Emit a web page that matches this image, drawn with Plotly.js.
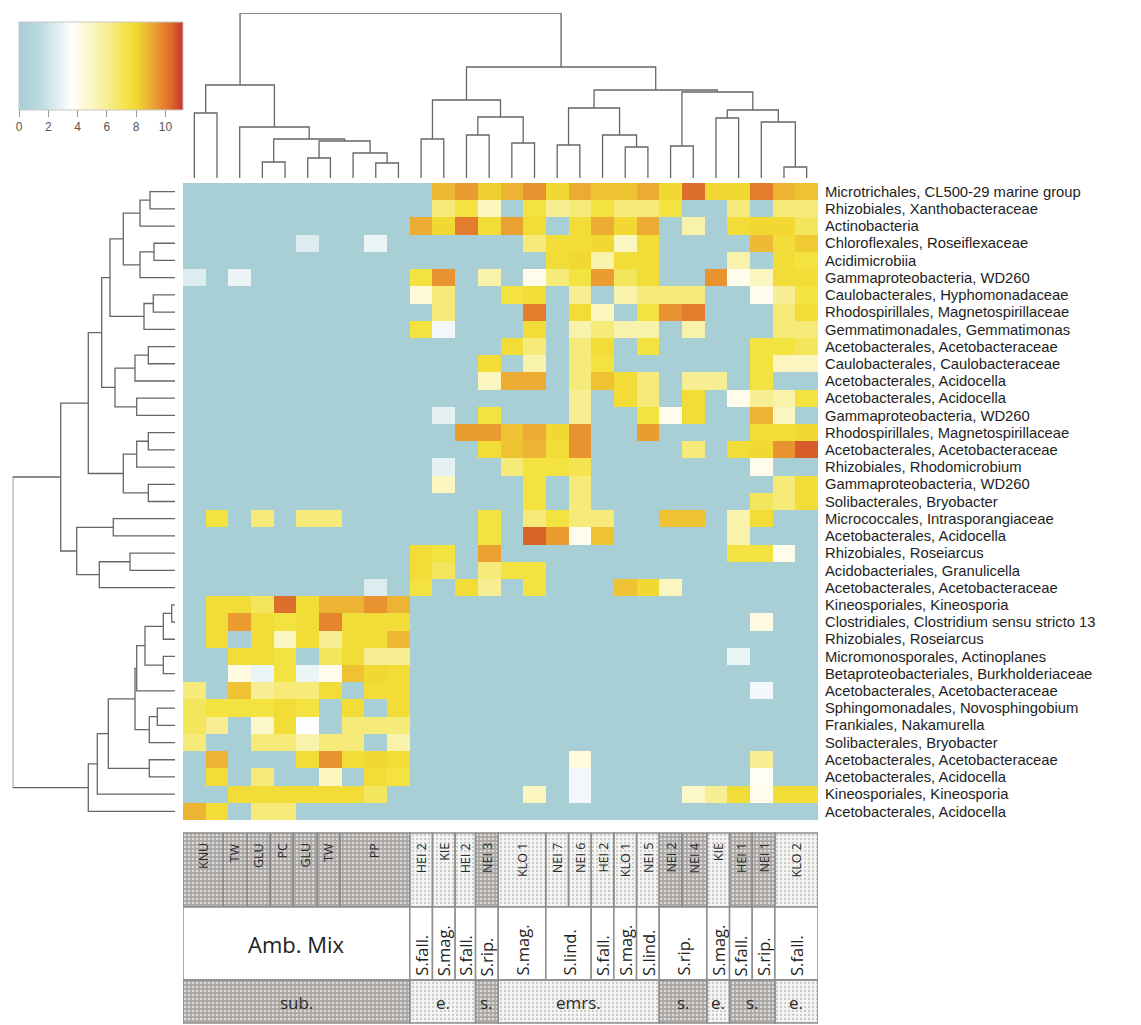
<!DOCTYPE html>
<html><head><meta charset="utf-8">
<script src="https://cdn.plot.ly/plotly-3.0.1.min.js"></script>
<style>html,body{margin:0;padding:0;background:#fff}#chart{width:1141px;height:1025px}</style>
</head><body><div id="chart"></div>
<script>
// ---------------- DATA ----------------
const rowLabels = [
 "Microtrichales, CL500-29 marine group","Rhizobiales, Xanthobacteraceae","Actinobacteria",
 "Chloroflexales, Roseiflexaceae","Acidimicrobiia","Gammaproteobacteria, WD260",
 "Caulobacterales, Hyphomonadaceae","Rhodospirillales, Magnetospirillaceae","Gemmatimonadales, Gemmatimonas",
 "Acetobacterales, Acetobacteraceae","Caulobacterales, Caulobacteraceae","Acetobacterales, Acidocella",
 "Acetobacterales, Acidocella","Gammaproteobacteria, WD260","Rhodospirillales, Magnetospirillaceae",
 "Acetobacterales, Acetobacteraceae","Rhizobiales, Rhodomicrobium","Gammaproteobacteria, WD260",
 "Solibacterales, Bryobacter","Micrococcales, Intrasporangiaceae","Acetobacterales, Acidocella",
 "Rhizobiales, Roseiarcus","Acidobacteriales, Granulicella","Acetobacterales, Acetobacteraceae",
 "Kineosporiales, Kineosporia","Clostridiales, Clostridium sensu stricto 13","Rhizobiales, Roseiarcus",
 "Micromonosporales, Actinoplanes","Betaproteobacteriales, Burkholderiaceae","Acetobacterales, Acetobacteraceae",
 "Sphingomonadales, Novosphingobium","Frankiales, Nakamurella","Solibacterales, Bryobacter",
 "Acetobacterales, Acetobacteraceae","Acetobacterales, Acidocella","Kineosporiales, Kineosporia",
 "Acetobacterales, Acidocella"];

const columns = [1,2,3,4,5,6,7,8,9,10,11,12,13,14,15,16,17,18,19,20,21,22,23,24,25,26,27,28];

const values = [
[0,0,0,0,0,0,0,0,0,0, 0,8.7,9.3,8.2,8.8,9.5,8.0,9.0,8.5,8.5,9.0,8.0,10.3,8.0,8.0,10.0,8.8,8.5],
[0,0,0,0,0,0,0,0,0,0, 0,6.5,7.5,5.0,0,7.5,6.0,6.5,7.5,6.5,6.5,7.5,0,0,6.5,0,6.5,6.5],
[0,0,0,0,0,0,0,0,0,0, 9.0,8.0,10.0,7.8,9.2,7.8,0,7.8,9.0,8.0,9.0,0,5.5,0,7.8,8.0,8.0,7.0],
[0,0,0,0,0,2.5,0,0,3.0,0, 0,0,0,0,0,6.5,7.8,7.8,8.0,5.0,7.8,0,0,0,0,8.7,7.8,8.3],
[0,0,0,0,0,0,0,0,0,0, 0,0,0,0,0,0,7.8,8.0,5.5,7.8,7.8,0,0,0,5.5,0,7.8,7.5],
[2.5,0,3.0,0,0,0,0,0,0,0, 7.5,9.5,0,5.5,0,4.0,6.5,7.5,9.3,7.0,7.8,0,0,9.5,4.0,5.0,7.8,7.8],
[0,0,0,0,0,0,0,0,0,0, 4.5,6.5,0,0,7.5,7.8,0,6.0,0,5.5,6.5,6.5,6.5,0,0,4.0,6.0,7.5],
[0,0,0,0,0,0,0,0,0,0, 0,6.5,0,0,0,10.0,0,7.8,5.0,0,7.5,9.5,10.0,0,0,0,6.5,7.8],
[0,0,0,0,0,0,0,0,0,0, 7.5,3.2,0,0,0,7.8,0,5.5,6.5,5.5,5.5,0,5.5,0,0,0,6.5,6.5],
[0,0,0,0,0,0,0,0,0,0, 0,0,0,0,7.8,6.5,0,6.5,7.8,0,7.5,0,0,0,0,7.5,7.5,7.0],
[0,0,0,0,0,0,0,0,0,0, 0,0,0,7.8,0,5.5,0,6.5,7.5,0,0,0,0,0,0,7.5,5.0,5.0],
[0,0,0,0,0,0,0,0,0,0, 0,0,0,5.0,9.0,9.0,0,6.5,8.5,7.8,6.5,0,6.0,6.0,0,7.5,0,0],
[0,0,0,0,0,0,0,0,0,0, 0,0,0,0,0,0,0,6.0,0,7.8,6.5,0,7.8,0,4.0,6.0,5.5,7.5],
[0,0,0,0,0,0,0,0,0,0, 0,2.8,0,7.5,0,0,0,6.0,0,0,7.5,4.0,7.8,0,0,8.8,5.0,0],
[0,0,0,0,0,0,0,0,0,0, 0,0,9.3,9.3,8.5,9.0,8.0,9.5,0,0,9.3,0,0,0,0,7.8,7.8,8.0],
[0,0,0,0,0,0,0,0,0,0, 0,0,0,7.8,8.5,8.8,7.8,9.5,0,0,0,0,6.5,0,7.8,8.0,9.5,10.6],
[0,0,0,0,0,0,0,0,0,0, 0,2.8,0,0,6.5,7.5,7.5,7.2,0,0,0,0,0,0,0,4.0,0,0],
[0,0,0,0,0,0,0,0,0,0, 0,5.0,0,0,0,7.5,0,6.5,0,0,0,0,0,0,0,0,6.5,7.8],
[0,0,0,0,0,0,0,0,0,0, 0,0,0,0,0,7.5,0,6.5,0,0,0,0,0,0,0,7.0,6.5,7.8],
[0,7.5,0,6.5,0,6.5,6.5,0,0,0, 0,0,0,7.5,0,6.5,7.5,6.5,6.5,0,0,8.5,8.5,0,5.5,7.8,0,0],
[0,0,0,0,0,0,0,0,0,0, 0,0,0,7.5,0,10.5,9.3,4.0,8.5,0,0,0,0,0,5.5,0,0,0],
[0,0,0,0,0,0,0,0,0,0, 7.8,7.5,0,9.2,0,0,0,0,0,0,0,0,0,0,7.5,7.5,4.0,0],
[0,0,0,0,0,0,0,0,0,0, 7.8,7.0,0,6.5,7.5,7.5,0,0,0,0,0,0,0,0,0,0,0,0],
[0,0,0,0,0,0,0,0,2.5,0, 7.5,0,7.8,6.0,0,7.5,0,0,0,8.5,8.0,5.0,0,0,0,0,0,0],
[0,7.8,7.8,7.0,10.3,7.8,8.8,8.8,9.5,8.8, 0,0,0,0,0,0,0,0,0,0,0,0,0,0,0,0,0,0],
[0,7.8,9.3,7.8,7.5,7.8,9.8,7.8,7.8,7.8, 0,0,0,0,0,0,0,0,0,0,0,0,0,0,0,4.2,0,0],
[0,7.8,0,7.8,5.0,7.8,6.0,7.8,7.8,8.7, 0,0,0,0,0,0,0,0,0,0,0,0,0,0,0,0,0,0],
[0,0,7.8,7.8,7.5,0,7.0,7.8,6.0,6.0, 0,0,0,0,0,0,0,0,0,0,0,0,0,0,3.0,0,0,0],
[0,0,4.2,3.0,7.5,3.0,4.0,8.5,8.0,7.8, 0,0,0,0,0,0,0,0,0,0,0,0,0,0,0,0,0,0],
[6.5,0,8.5,6.0,6.5,6.5,7.8,0,7.8,7.8, 0,0,0,0,0,0,0,0,0,0,0,0,0,0,0,3.2,0,0],
[7.0,7.5,7.5,7.5,7.8,7.5,0,7.8,0,7.8, 0,0,0,0,0,0,0,0,0,0,0,0,0,0,0,0,0,0],
[7.0,6.0,0,4.8,7.8,3.5,0,6.5,6.5,6.5, 0,0,0,0,0,0,0,0,0,0,0,0,0,0,0,0,0,0],
[6.5,0,0,6.5,6.5,5.5,6.5,6.5,0,5.5, 0,0,0,0,0,0,0,0,0,0,0,0,0,0,0,0,0,0],
[0,8.8,0,0,0,7.8,9.5,7.8,8.0,7.8, 0,0,0,0,0,0,0,4.3,0,0,0,0,0,0,0,6.0,0,0],
[0,7.8,0,6.5,0,0,5.0,0,7.8,7.5, 0,0,0,0,0,0,0,3.2,0,0,0,0,0,0,0,3.8,0,0],
[0,0,7.8,7.8,7.8,7.8,7.8,7.8,7.0,0, 0,0,0,0,0,5.0,0,3.2,0,0,0,0,4.8,6.0,7.8,4.0,7.8,7.8],
[8.8,7.8,0,6.5,6.5,0,0,0,0,0, 0,0,0,0,0,0,0,0,0,0,0,0,0,0,0,0,0,0]
];

// column dendrogram merges: [childA, childB, height]; ids >= 28 refer to earlier merges
const colMerges = [
 [0,1,65],[3,4,16],[5,6,20],[8,9,15],[7,31,25],[30,32,37],[29,33,39],[2,34,51],[28,35,93],
 [10,11,39],[12,13,43],[14,15,35],[38,39,61],[37,40,78],
 [16,17,33],[19,20,31],[18,43,43],[42,44,70],[21,22,32],[23,24,60],[26,27,11],[25,48,56],
 [47,49,68],[46,50,86],[45,51,88],[41,52,111],[36,53,165]];

// row dendrogram merges; ids >= 37 refer to earlier merges
const rowMerges = [
 [0,1,25],[37,2,35],[3,4,21],[39,5,35],[38,40,51.7],[6,7,21.7],[42,8,31],[41,43,65],
 [9,10,26.7],[45,11,40],[12,13,38.3],[46,47,60],[44,48,73.3],
 [14,15,26.7],[50,16,38.3],[17,18,26.7],[51,52,51.7],[49,53,86.7],
 [19,20,61.7],[21,22,45],[56,23,75.7],[55,57,98.3],[54,58,114.3],
 [24,25,3.3],[60,26,11.7],[27,28,11.7],[61,62,30],[63,29,38.3],[30,31,17.7],[65,32,25.7],
 [64,66,40],[33,34,25.7],[67,68,66.7],[69,35,77.7],[70,36,86.7],[59,71,162.3]];

// annotation table (cell edges in column units)
const sampleLabels = ["KNU","TW","GLU","PC","GLU","TW","PP","HEI 2","KIE","HEI 2","NEI 3","KLO 1","NEI 7","NEI 6","HEI 2","KLO 1","NEI 5","NEI 2","NEI 4","KIE","HEI 1","NEI 1","KLO 2"];
const sampleEdges = [0,1.76,2.82,3.84,4.85,5.91,6.92,10,11,12,12.9,13.9,16,17,18,19,20,21,22,23.1,24.1,25.1,26.1,28];
const sampleDark = [1,1,1,1,1,1,1,0,0,0,1,0,0,0,0,0,0,1,1,0,1,1,0];
const speciesLabels = ["Amb. Mix","S.fall.","S.mag.","S.fall.","S.rip.","S.mag.","S.lind.","S.fall.","S.mag.","S.lind.","S.rip.","S.mag.","S.fall.","S.rip.","S.fall."];
const speciesEdges = [0,10,11,12,12.9,13.9,16,18,19,20,21,23.1,24.1,25.1,26.1,28];
const groupLabels = ["sub.","e.","s.","emrs.","s.","e.","s.","e."];
const groupEdges = [0,10,12.9,13.9,21,23.1,24.1,26.1,28];
const groupDark = [1,0,1,0,1,0,1,0];
const colorTicks = [0,2,4,6,8,10];

// ---------------- LAYOUT HELPERS ----------------
const W = 1141, H = 1025;
const fx = p => p / W, fy = p => 1 - p / H;
const ZMAX = 11.2;
const cs = [[0,'#a8cfd6'],[1.5/ZMAX,'#bddbe0'],[3.6/ZMAX,'#ffffff'],[4.2/ZMAX,'#fffbe2'],
  [6/ZMAX,'#f7ee94'],[7.5/ZMAX,'#f3e240'],[8.0/ZMAX,'#f1d832'],[8.7/ZMAX,'#eeb934'],
  [9.6/ZMAX,'#e88e2f'],[10.4/ZMAX,'#dd6a2a'],[1,'#c83224']];

function dendro(merges, n) {
  const pos = [], hgt = [];
  for (let i = 0; i < n; i++) { pos.push(i); hgt.push(0); }
  const a = [], b = [];
  merges.forEach(([l, r, h]) => {
    a.push(pos[l], pos[l], pos[r], pos[r], null);
    b.push(hgt[l], h, h, hgt[r], null);
    pos.push((pos[l] + pos[r]) / 2); hgt.push(h);
  });
  return {pos: a, h: b};
}
const colDendro = dendro(colMerges, columns.length);
const rowDendro = dendro(rowMerges, rowLabels.length);
const colIdx = columns.map((c, i) => i);
const rowIdx = rowLabels.map((r, i) => i);

const traces = [
 {type:'heatmap', z: values, x: colIdx, y: rowIdx, zmin:0, zmax:ZMAX, colorscale: cs,
  xaxis:'x', yaxis:'y', hoverinfo:'skip',
  colorbar:{orientation:'h', x: fx(19), xanchor:'left', y: fy(22), yanchor:'top',
    len:164, lenmode:'pixels', thickness:88, thicknessmode:'pixels',
    outlinewidth:1, outlinecolor:'#c8c8c8', ticks:'outside', ticklen:7, tickcolor:'#999',
    tickvals: colorTicks, tickfont:{family:'Liberation Sans', size:12, color:'#555'},
    xpad:0, ypad:0, borderwidth:0}},
 {type:'scatter', mode:'lines', x: colDendro.pos, y: colDendro.h, xaxis:'x', yaxis:'y2',
  line:{color:'#666', width:1.3}, hoverinfo:'skip', showlegend:false},
 {type:'scatter', mode:'lines', x: rowDendro.h, y: rowDendro.pos, xaxis:'x3', yaxis:'y',
  line:{color:'#666', width:1.3}, hoverinfo:'skip', showlegend:false}
];

// ---------------- annotation table ----------------
const LINE = '#8d8d8d';
const DARKP = {shape:'.', bgcolor:'#aaa6a4', fgcolor:'#dddbd9', size:4, solidity:0.35};
const LIGHTP = {shape:'.', bgcolor:'#f5f5f4', fgcolor:'#c9c9c9', size:4, solidity:0.25};
const shapes = [], ann = [];
const TF = 'Open Sans';
function cellRow(edges, y0, y1, dark) {
  const n = edges.length - 1;
  if (dark) {
    [1, 0].forEach(d => {
      const idx = [...Array(n).keys()].filter(i => dark[i] === d);
      traces.push({type:'bar', xaxis:'x', yaxis:'y4', orientation:'v',
        x: idx.map(i => edges[i] - 0.5), width: idx.map(i => edges[i+1] - edges[i]),
        offset: 0, base: idx.map(() => y0), y: idx.map(() => y1 - y0),
        marker:{color: d ? DARKP.bgcolor : LIGHTP.bgcolor, pattern: d ? DARKP : LIGHTP, line:{width:0}},
        hoverinfo:'skip', showlegend:false});
    });
  }
  for (let i = 0; i < n; i++) {
    shapes.push({type:'rect', xref:'x', yref:'paper', x0: edges[i]-0.5, x1: edges[i+1]-0.5,
      y0: fy(y1), y1: fy(y0), fillcolor: dark ? 'rgba(0,0,0,0)' : '#ffffff',
      line:{color: LINE, width:1.5}, layer:'above'});
  }
}
cellRow(sampleEdges, 833, 907, sampleDark);
cellRow(speciesEdges, 907, 980, null);
cellRow(groupEdges, 980, 1023, groupDark);
const mid = (e, i) => (e[i] + e[i+1]) / 2 - 0.5;
sampleLabels.forEach((t, i) => ann.push({xref:'x', yref:'paper', x: mid(sampleEdges, i), y: fy(841),
  yanchor:'top', xanchor:'center', text: t, textangle:-90, showarrow:false,
  font:{family:TF, size:12.5, color:'#2a2a2a'}}));
speciesLabels.forEach((t, i) => {
  if (i === 0) ann.push({xref:'x', yref:'paper', x: mid(speciesEdges, i), y: fy(944), yanchor:'middle',
    text: t, showarrow:false, font:{family:TF, size:22, color:'#222'}});
  else ann.push({xref:'x', yref:'paper', x: mid(speciesEdges, i), y: fy(978), yanchor:'bottom',
    text: t, textangle:-90, showarrow:false, font:{family:TF, size:16.5, color:'#222'}});
});
groupLabels.forEach((t, i) => ann.push({xref:'x', yref:'paper', x: mid(groupEdges, i), y: fy(1002),
  yanchor:'middle', text: t, showarrow:false, font:{family:TF, size:17, color:'#2a2a2a'}}));

const layout = {
  width: W, height: H, margin:{l:0, r:0, t:0, b:0, autoexpand:false},
  paper_bgcolor:'#fff', plot_bgcolor:'rgba(0,0,0,0)', showlegend:false,
  barmode:'overlay', bargap:0,
  xaxis:{domain:[fx(183), fx(818)], range:[-0.5, 27.5], anchor:'y', showgrid:false, zeroline:false,
    showticklabels:false, ticks:'', showline:false},
  yaxis:{domain:[fy(820), fy(183)], range:[36.5, -0.5], anchor:'x', side:'right', showgrid:false,
    zeroline:false, ticks:'', showline:false, tickvals: rowIdx, ticktext: rowLabels,
    ticklabelstandoff: 6, tickfont:{family:'Liberation Sans', size:14.8, color:'#1e1e1e'}},
  yaxis2:{domain:[fy(178), fy(13)], range:[0, 165], anchor:'x', visible:false},
  xaxis3:{domain:[fx(12.7), fx(175)], range:[162.3, 0], anchor:'y', visible:false},
  yaxis4:{domain:[0, fy(833)], range:[H, 833], anchor:'x', visible:false},
  shapes: shapes, annotations: ann
};
Plotly.newPlot('chart', traces, layout, {displayModeBar:false, staticPlot:true});
</script></body></html>
